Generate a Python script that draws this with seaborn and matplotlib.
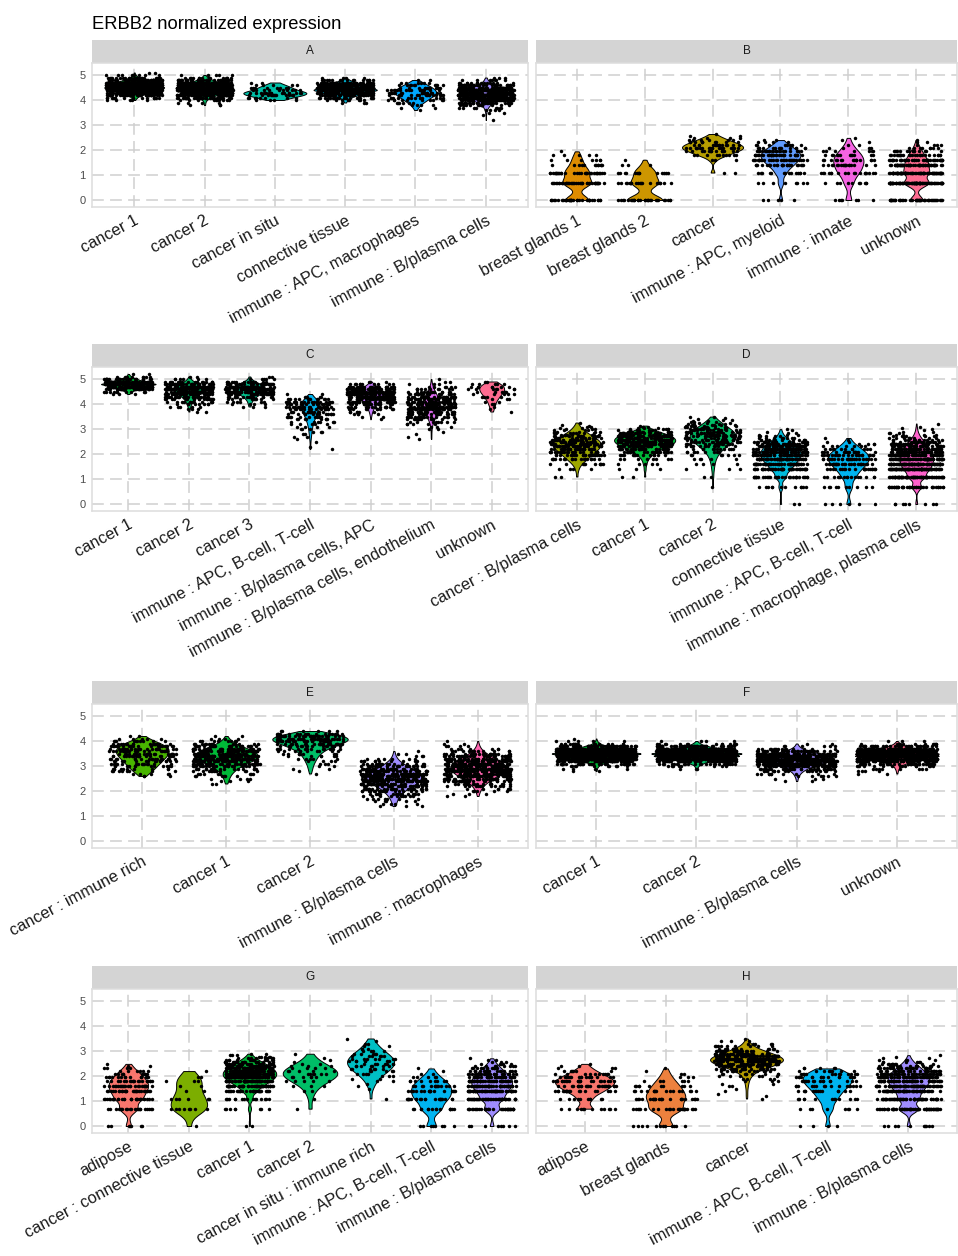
import numpy as np
import pandas as pd
import matplotlib
matplotlib.use("Agg")
import matplotlib.pyplot as plt
import seaborn as sns

sns.set_style("white")
plt.rcParams["font.family"] = ["Liberation Sans", "DejaVu Sans"]
plt.rcParams["lines.scale_dashes"] = False

# ---------------------------------------------------------------------------
# Expression data per sample (facet).  Each cell type is stored as counts of
# cells on a grid of expression levels:
#   "umi" grid -> level = log1p(k) for consecutive integer k starting at `first`
#   "bin" grid -> level = first + 0.1 * i
# ---------------------------------------------------------------------------
A_cats = ["cancer 1", "cancer 2", "cancer in situ", "connective tissue",
          "immune : APC, macrophages", "immune : B/plasma cells"]
A_grid = ["bin", "bin", "bin", "bin", "bin", "bin"]
A_first = [4.0, 3.8, 4.0, 3.9, 3.6, 3.2]
A_counts = [
    [5, 15, 40, 80, 130, 160, 150, 110, 60, 25, 8, 2],
    [3, 4, 10, 30, 60, 100, 130, 130, 110, 75, 40, 15, 5],
    [4, 8, 14, 16, 10, 8, 5, 2],
    [3, 8, 20, 45, 80, 110, 100, 75, 40, 15, 4],
    [1, 2, 4, 6, 10, 12, 16, 18, 16, 14, 10, 6, 2],
    [1, 0, 1, 2, 4, 8, 15, 30, 50, 70, 85, 85, 70, 50, 30, 15, 7, 3],
]

B_cats = ["breast glands 1", "breast glands 2", "cancer",
          "immune : APC, myeloid", "immune : innate", "unknown"]
B_grid = ["umi", "umi", "umi", "umi", "umi", "umi"]
B_first = [0, 0, 2, 0, 0, 0]
B_counts = [
    [35, 40, 30, 12, 7, 5, 1],
    [28, 20, 14, 3, 1],
    [2, 0, 3, 10, 15, 18, 14, 10, 6, 4, 2, 1],
    [5, 8, 14, 25, 30, 30, 22, 14, 8, 4, 2],
    [7, 10, 18, 18, 16, 12, 7, 4, 2, 1, 1, 1],
    [45, 85, 75, 55, 40, 25, 15, 8, 4, 2, 1],
]

C_cats = ["cancer 1", "cancer 2", "cancer 3", "immune : APC, B-cell, T-cell",
          "immune : B/plasma cells, APC", "immune : B/plasma cells, endothelium",
          "unknown"]
C_grid = ["bin"] * 7
C_first = [4.4, 3.7, 3.9, 2.2, 3.4, 2.6, 3.7]
C_counts = [
    [3, 10, 30, 60, 80, 55, 25, 8, 2],
    [2, 3, 5, 8, 12, 18, 28, 40, 50, 55, 50, 35, 18, 6, 2],
    [3, 4, 6, 10, 18, 28, 38, 42, 40, 30, 15, 5, 2],
    [1, 1, 0, 1, 1, 2, 2, 3, 3, 4, 5, 6, 8, 10, 12, 14, 16, 18, 20, 18, 12, 5, 2],
    [1, 2, 4, 6, 10, 14, 20, 28, 36, 42, 45, 45, 38, 25, 10, 3],
    [1, 1, 1, 1, 2, 3, 5, 8, 12, 16, 22, 28, 32, 34, 34, 32, 28, 24, 20, 15,
     10, 6, 3, 2, 1],
    [1, 1, 1, 2, 2, 3, 4, 5, 6, 7, 7, 5, 2],
]

D_cats = ["cancer : B/plasma cells", "cancer 1", "cancer 2", "connective tissue",
          "immune : APC, B-cell, T-cell", "immune : macrophage, plasma cells"]
D_grid = ["umi"] * 6
D_first = [2, 2, 1, 0, 0, 0]
D_counts = [
    [2, 4, 10, 18, 22, 24, 26, 26, 24, 22, 18, 15, 12, 9, 7, 5, 4, 3, 2, 2, 1,
     1, 0, 1],
    [2, 3, 5, 8, 14, 20, 28, 34, 38, 38, 36, 32, 28, 22, 17, 12, 8, 5, 3, 2, 1],
    [1, 2, 3, 4, 5, 7, 9, 11, 13, 15, 16, 17, 17, 16, 15, 14, 12, 11, 9, 8, 7,
     6, 5, 4, 3, 3, 2, 2, 1, 1, 1, 1],
    [2, 12, 30, 45, 55, 58, 55, 48, 40, 32, 25, 18, 12, 8, 5, 3, 2, 1, 1, 1],
    [6, 10, 16, 22, 26, 26, 22, 16, 11, 7, 4, 2, 1, 1],
    [8, 40, 70, 85, 85, 75, 62, 50, 40, 32, 25, 18, 13, 9, 6, 4, 3, 2, 1, 1, 1,
     1, 0, 0, 1],
]

E_cats = ["cancer : immune rich", "cancer 1", "cancer 2",
          "immune : B/plasma cells", "immune : macrophages"]
E_grid = ["bin"] * 5
E_first = [2.6, 2.3, 2.7, 1.4, 1.8]
E_counts = [
    [3, 5, 8, 10, 12, 14, 16, 18, 20, 22, 22, 22, 20, 16, 10, 5, 2],
    [2, 3, 4, 6, 8, 12, 16, 22, 30, 38, 45, 48, 46, 40, 32, 22, 14, 8, 4, 2],
    [1, 1, 2, 2, 3, 4, 5, 6, 8, 10, 14, 18, 24, 30, 32, 28, 18, 6],
    [3, 4, 5, 7, 10, 14, 18, 24, 32, 40, 46, 50, 50, 46, 40, 32, 24, 16, 10, 6,
     3, 2, 1],
    [2, 3, 5, 8, 12, 18, 25, 34, 44, 52, 58, 62, 62, 58, 50, 40, 30, 20, 12, 7,
     4, 2, 1],
]

F_cats = ["cancer 1", "cancer 2", "immune : B/plasma cells", "unknown"]
F_grid = ["bin"] * 4
F_first = [2.8, 2.9, 2.4, 2.7]
F_counts = [
    [2, 4, 10, 30, 70, 130, 180, 200, 170, 110, 50, 18, 5, 1],
    [3, 8, 25, 60, 120, 170, 180, 150, 95, 45, 15, 4],
    [2, 3, 6, 10, 18, 30, 50, 75, 95, 100, 90, 65, 35, 15, 6, 2],
    [2, 4, 8, 15, 35, 75, 130, 170, 170, 130, 80, 35, 12, 3],
]

G_cats = ["adipose", "cancer : connective tissue", "cancer 1", "cancer 2",
          "cancer in situ : immune rich", "immune : APC, B-cell, T-cell",
          "immune : B/plasma cells"]
G_grid = ["umi", "umi", "umi", "umi", "bin", "umi", "umi"]
G_first = [0, 0, 0, 1, 1.1, 0, 0]
G_counts = [
    [7, 22, 28, 28, 26, 20, 14, 10, 6, 4, 2, 1],
    [1, 8, 6, 2, 2, 3, 2, 0, 1],
    [2, 8, 15, 30, 50, 65, 70, 65, 55, 45, 35, 26, 18, 12, 8, 5, 3, 2],
    [1, 1, 2, 3, 5, 6, 6, 5, 4, 3, 2, 1, 1, 1, 0, 0, 1],
    [1, 0, 0, 0, 1, 1, 1, 2, 2, 3, 4, 5, 6, 7, 7, 7, 7, 6, 5, 4, 3, 2, 2, 1, 1],
    [8, 15, 20, 18, 14, 9, 5, 2, 1, 1],
    [8, 35, 45, 50, 50, 45, 35, 25, 18, 12, 8, 5, 3, 2, 1],
]

H_cats = ["adipose", "breast glands", "cancer", "immune : APC, B-cell, T-cell",
          "immune : B/plasma cells"]
H_grid = ["umi", "umi", "bin", "umi", "umi"]
H_first = [1, 0, 1.1, 0, 0]
H_counts = [
    [12, 10, 20, 25, 25, 16, 10, 6, 3, 2, 1],
    [12, 25, 24, 16, 10, 6, 3, 2, 1, 1],
    [1, 1, 1, 1, 1, 2, 2, 3, 4, 6, 9, 14, 22, 32, 42, 48, 48, 42, 34, 24, 15, 9,
     5, 3, 1],
    [4, 8, 12, 14, 16, 16, 15, 12, 8, 5],
    [10, 60, 55, 55, 60, 60, 50, 40, 30, 22, 15, 10, 6, 4, 2, 1, 1],
]

SAMPLES = ["A", "B", "C", "D", "E", "F", "G", "H"]
PANEL_DATA = {
    "A": (A_cats, A_grid, A_first, A_counts),
    "B": (B_cats, B_grid, B_first, B_counts),
    "C": (C_cats, C_grid, C_first, C_counts),
    "D": (D_cats, D_grid, D_first, D_counts),
    "E": (E_cats, E_grid, E_first, E_counts),
    "F": (F_cats, F_grid, F_first, F_counts),
    "G": (G_cats, G_grid, G_first, G_counts),
    "H": (H_cats, H_grid, H_first, H_counts),
}
Y_TICKS = [0, 1, 2, 3, 4, 5]


def hcl_hex(h, c=100.0, l=65.0):
    """Polar LUV (HCL) to sRGB hex, as used by the default discrete hue scale."""
    hr = np.deg2rad(h)
    u, v = c * np.cos(hr), c * np.sin(hr)
    xn, yn, zn = 95.047, 100.0, 108.883
    den = xn + 15 * yn + 3 * zn
    un, vn = 4 * xn / den, 9 * yn / den
    y = yn * ((l + 16) / 116) ** 3
    up = u / (13 * l) + un
    vp = v / (13 * l) + vn
    x = 9 * y * up / (4 * vp)
    z = y * (12 - 3 * up - 20 * vp) / (4 * vp)
    x, y, z = x / 100, y / 100, z / 100
    rgb = [3.2404542 * x - 1.5371385 * y - 0.4985314 * z,
           -0.9692660 * x + 1.8760108 * y + 0.0415560 * z,
           0.0556434 * x - 0.2040259 * y + 1.0572252 * z]
    out = []
    for t in rgb:
        t = 1.055 * t ** (1 / 2.4) - 0.055 if t > 0.0031308 else 12.92 * t
        out.append(min(max(t, 0.0), 1.0))
    return matplotlib.colors.to_hex(out)


all_types = sorted({c for s in SAMPLES for c in PANEL_DATA[s][0]},
                   key=lambda s: s.lower().replace(":", "!"))
n_types = len(all_types)
PALETTE = {ct: hcl_hex(15 + 360 * i / n_types) for i, ct in enumerate(all_types)}


def levels(grid, first, n):
    if grid == "umi":
        return np.log1p(first + np.arange(n))
    return first + 0.1 * np.arange(n)


def panel_frame(cats, grids, firsts, counts):
    parts = []
    for ct, g, f, cnt in zip(cats, grids, firsts, counts):
        vals = np.repeat(levels(g, f, len(cnt)), cnt)
        parts.append(pd.DataFrame({"cell_type": ct, "expr": vals}))
    return pd.concat(parts, ignore_index=True)


W, H = 958, 1256
fig = plt.figure(figsize=(W / 100, H / 100), dpi=100)


def px_axes(x0, y0, x1, y1):
    return fig.add_axes([x0 / W, 1 - y1 / H, (x1 - x0) / W, (y1 - y0) / H])


COLS = [(92, 528), (536, 957)]
ROWS = [(40, 63, 207), (344, 367, 511), (681, 704, 848), (966, 989, 1133)]

np.random.seed(11)
for idx, sample in enumerate(SAMPLES):
    r, c = divmod(idx, 2)
    x0, x1 = COLS[c]
    s_top, p_top, p_bot = ROWS[r]

    # facet strip
    sax = px_axes(x0, s_top, x1, p_top)
    sax.set_facecolor("#D4D4D4")
    sax.set_xticks([])
    sax.set_yticks([])
    for sp in sax.spines.values():
        sp.set_visible(False)
    sax.text(0.5, 0.5, sample, ha="center", va="center", fontsize=8.5,
             color="#1A1A1A", transform=sax.transAxes)

    cats, grids, firsts, counts = PANEL_DATA[sample]
    df = panel_frame(cats, grids, firsts, counts)
    ax = px_axes(x0, p_top, x1, p_bot)
    sns.violinplot(data=df, x="cell_type", y="expr", order=cats,
                   hue="cell_type", hue_order=cats,
                   palette={k: PALETTE[k] for k in cats}, dodge=False,
                   legend=False, density_norm="area", common_norm=True,
                   cut=0, inner=None, width=0.9, saturation=1,
                   linewidth=0.7, linecolor="black",
                   bw_method="scott", bw_adjust=0.9, ax=ax)
    sns.stripplot(data=df, x="cell_type", y="expr", order=cats, color="black",
                  size=2.5, jitter=0.4, linewidth=0, ax=ax, zorder=3)

    ax.set_xlim(-0.6, len(cats) - 0.4)
    ax.set_ylim(-0.28, 5.48)
    ax.set_yticks(Y_TICKS)
    ax.set_xlabel("")
    ax.set_ylabel("")
    ax.grid(True, color="#CFCFCF", linewidth=1.1, linestyle=(0, (8.5, 4.5)))
    ax.set_axisbelow(True)
    for sp in ax.spines.values():
        sp.set_color("#DDDDDD")
        sp.set_linewidth(1.1)
    ax.tick_params(axis="both", length=2.5, width=0.8, color="#333333",
                   direction="out")
    ax.tick_params(axis="y", labelsize=8, labelcolor="#4D4D4D", pad=2)
    ax.tick_params(axis="x", labelsize=11.8, labelcolor="#1A1A1A", pad=2)
    ax.set_xticks(range(len(cats)))
    ax.set_xticklabels(cats)
    for lbl in ax.get_xticklabels():
        lbl.set_rotation(28)
        lbl.set_ha("right")
        lbl.set_va("top")
        lbl.set_rotation_mode("anchor")
    if c == 1:
        ax.tick_params(axis="y", length=0, labelleft=False)

fig.text(92 / W, 1 - 29 / H, "ERBB2 normalized expression", fontsize=13.2,
         ha="left", va="baseline", color="black")

fig.savefig("out.png", dpi=100)
